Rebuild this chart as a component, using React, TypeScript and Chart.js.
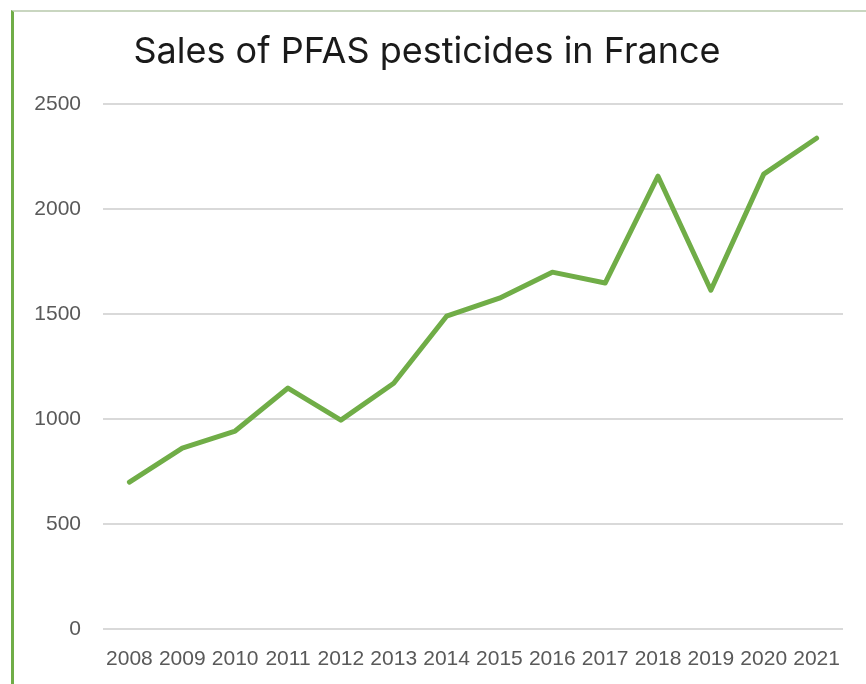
import React, { useEffect, useRef } from "react";
import { Chart, registerables } from "chart.js";

Chart.register(...registerables);

const titleText = "Sales of PFAS pesticides in France";
const years = ["2008", "2009", "2010", "2011", "2012", "2013", "2014", "2015", "2016", "2017", "2018", "2019", "2020", "2021"];
const sales = [700, 862, 943, 1148, 995, 1171, 1490, 1576, 1700, 1648, 2157, 1614, 2167, 2338];
const yMin = 0;
const yMax = 2500;
const yStep = 500;

const tickFont = { family: "'Liberation Sans', Arial, sans-serif", size: 21 };

export default function App() {
  const ref = useRef<HTMLCanvasElement | null>(null);

  useEffect(() => {
    if (!ref.current) return;
    const chart = new Chart(ref.current, {
      type: "line",
      data: {
        labels: years,
        datasets: [
          {
            data: sales,
            borderColor: "#70AD47",
            backgroundColor: "#70AD47",
            borderWidth: 5,
            pointRadius: 0,
            tension: 0,
            borderJoinStyle: "round",
            borderCapStyle: "round",
          },
        ],
      },
      options: {
        animation: false,
        responsive: false,
        devicePixelRatio: 1,
        layout: { padding: { left: 11, right: 23, top: 0, bottom: 0 } },
        plugins: {
          legend: { display: false },
          tooltip: { enabled: false },
          title: {
            display: true,
            text: titleText,
            color: "#1a1a1a",
            font: { family: "Inter", size: 36, weight: "normal", lineHeight: 1.2 },
            padding: { top: 31, bottom: 30 },
          },
        },
        scales: {
          x: {
            offset: true,
            grid: { display: false, drawTicks: false },
            border: { display: false },
            ticks: {
              color: "#595959",
              font: tickFont,
              padding: 18,
              maxRotation: 0,
              autoSkip: false,
            },
            afterFit: (s: any) => {
              s.height = 55;
            },
          },
          y: {
            min: yMin,
            max: yMax,
            grid: { color: "#d9d9d9", lineWidth: 2, drawTicks: false },
            border: { display: false },
            ticks: {
              stepSize: yStep,
              color: "#595959",
              font: tickFont,
              padding: 22,
              callback: (v: any) => String(v),
            },
            afterFit: (s: any) => {
              s.width = 92;
            },
          },
        },
      },
    });
    return () => chart.destroy();
  }, []);

  return (
    <div style={{ position: "absolute", left: 0, top: 0, width: 866, height: 684, background: "#ffffff" }}>
      <div
        style={{
          position: "absolute",
          left: 11,
          top: 10,
          right: 0,
          bottom: 0,
          borderLeft: "3px solid #70AD47",
          borderTop: "2px solid #c9d6c0",
        }}
      />
      <canvas ref={ref} width={866} height={684} style={{ position: "absolute", left: 0, top: 0 }} />
    </div>
  );
}
